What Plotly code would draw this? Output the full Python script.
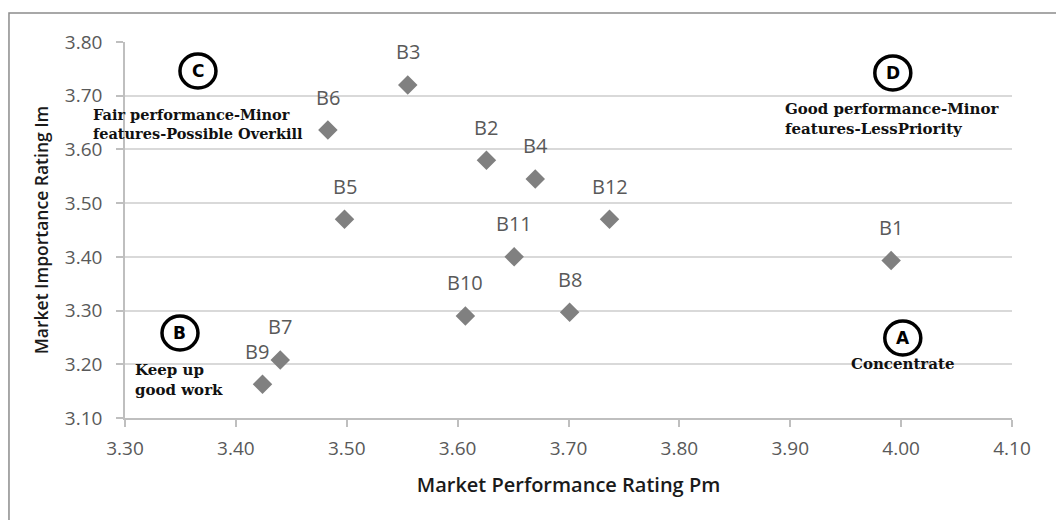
import plotly.graph_objects as go

labels = ["B1", "B2", "B3", "B4", "B5", "B6", "B7", "B8", "B9", "B10", "B11", "B12"]
perf = [3.991, 3.626, 3.555, 3.670, 3.498, 3.483, 3.440, 3.701, 3.424, 3.607, 3.651, 3.737]
imp = [3.393, 3.580, 3.720, 3.545, 3.470, 3.636, 3.208, 3.297, 3.163, 3.290, 3.400, 3.470]
label_dx = [0, 0, 0, 0, 0, 0, 0, 0, -5, 0, 0, 0]

x_ticks = [3.30, 3.40, 3.50, 3.60, 3.70, 3.80, 3.90, 4.00, 4.10]
y_ticks = [3.10, 3.20, 3.30, 3.40, 3.50, 3.60, 3.70, 3.80]

quadrants = ["A", "B", "C", "D"]
quad_cx = [4.0015, 3.3496, 3.3658, 3.9925]
quad_cy = [3.249, 3.2583, 3.746, 3.7425]
quad_text = ["Concentrate", "Keep up<br>good work",
             "Fair performance-Minor<br>features-Possible Overkill",
             "Good performance-Minor<br>features-LessPriority"]
quad_tx = [4.0015, 3.3072, 3.366, 3.8933]
quad_ty = [3.2006, 3.1708, 3.6465, 3.6568]
quad_anchor = ["center", "left", "center", "left"]
quad_size = [15, 15, 14.5, 15]

GRAY = "#595959"

fig = go.Figure()
fig.add_trace(go.Scatter(
    x=perf, y=imp, mode="markers",
    marker=dict(symbol="diamond", size=15, color="#808080"),
    hoverinfo="skip", showlegend=False,
))

annotations = []
for lab, px, py, dx in zip(labels, perf, imp, label_dx):
    annotations.append(dict(
        x=px, y=py, text=lab, showarrow=False, yshift=33, xshift=dx,
        font=dict(family="Open Sans", size=20, color=GRAY),
    ))

shapes = []
for q, cx, cy in zip(quadrants, quad_cx, quad_cy):
    shapes.append(dict(
        type="circle", xref="x", yref="y", xsizemode="pixel", ysizemode="pixel",
        xanchor=cx, yanchor=cy, x0=-18, x1=18, y0=-17, y1=17,
        line=dict(color="black", width=3.5), fillcolor="white",
    ))
    annotations.append(dict(
        x=cx, y=cy, text="<b>" + q + "</b>", showarrow=False,
        font=dict(family="DejaVu Sans", size=17, color="black"),
    ))

for t, tx, ty, anc, fs in zip(quad_text, quad_tx, quad_ty, quad_anchor, quad_size):
    annotations.append(dict(
        x=tx, y=ty, text="<b>" + t + "</b>", showarrow=False,
        xanchor=anc, yanchor="middle", align="left",
        font=dict(family="DejaVu Serif", size=fs, color="#111111"),
    ))

# outer chart border (open on the right, runs past the bottom)
shapes.append(dict(
    type="rect", xref="paper", yref="paper",
    x0=-0.1308, x1=1.12, y0=-0.35, y1=1.0771,
    line=dict(color="#8c8c8c", width=1.5), layer="below",
))

fig.update_layout(
    width=1064, height=520,
    margin=dict(l=117, r=60, t=34, b=110),
    paper_bgcolor="white", plot_bgcolor="white",
    font=dict(family="Open Sans", color=GRAY),
    annotations=annotations, shapes=shapes,
    xaxis=dict(
        range=[3.30, 4.10], tickvals=x_ticks, ticktext=[f"{v:.2f}" for v in x_ticks],
        showgrid=False, zeroline=False, showline=True, linecolor="#bfbfbf", linewidth=1.5,
        ticks="outside", ticklen=7, tickcolor="#bfbfbf", tickwidth=1.5,
        tickfont=dict(family="Open Sans", size=19, color=GRAY), ticklabelstandoff=5,
        title=dict(text="Market Performance Rating Pm",
                   font=dict(family="Open Sans", size=20, color="#1a1a1a", weight=600),
                   standoff=18),
    ),
    yaxis=dict(
        range=[3.10, 3.80], tickvals=y_ticks, ticktext=[f"{v:.2f}" for v in y_ticks],
        showgrid=True, gridcolor="#d9d9d9", gridwidth=2, zeroline=False,
        showline=True, linecolor="#bfbfbf", linewidth=1.5,
        ticks="outside", ticklen=7, tickcolor="#bfbfbf", tickwidth=1.5,
        tickfont=dict(family="Open Sans", size=19, color=GRAY), ticklabelstandoff=10,
        title=dict(text="Market Importance Rating Im",
                   font=dict(family="Open Sans", size=17.5, color="#1a1a1a", weight=600),
                   standoff=12),
    ),
)

fig.write_html("out.html")
